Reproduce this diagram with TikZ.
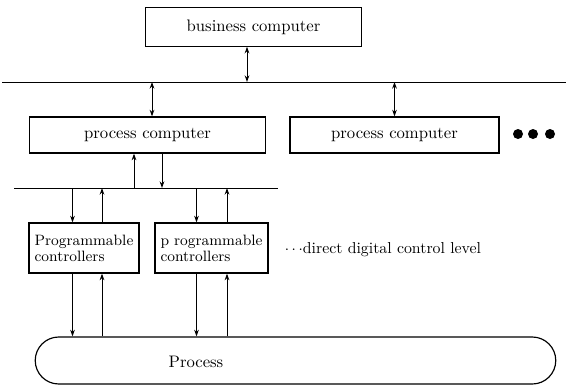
\documentclass[tikz,border=0pt]{standalone}
\usetikzlibrary{shapes.misc,arrows.meta,positioning,calc}

\begin{document}
\begin{tikzpicture}[
    x=0.6pt, y=-0.6pt,
    >={Stealth[length=4pt,width=2.8pt]},
    box/.style ={
        draw=black,
        line width=0.7pt,
        inner sep=0pt,
        minimum height=21.6pt
    },
    ctrl/.style ={
        draw=black,
        line width=0.7pt,
        align=left,
        font={\fontsize{9}{9.5}\selectfont},
        minimum width=64.8pt,
        minimum height=30pt
    },
    link/.style ={line width=0.6pt}
    ]
    \useasboundingbox (0,0) rectangle (568,386);

    \node[box, minimum width=130pt, minimum height=23pt] (business) at (253.5,27) {business computer};
    \node[box, minimum width=142pt] (pcleft) at (147.5,135) {process computer};
    \node[box, minimum width=125.4pt] (pcright) at (394.5,135) {process computer};
    \node[ctrl] (plcleft) at (84,248) {Programmable\\controllers};
    \node[ctrl] (plcright) at (211.5,248) {p rogrammable\\controllers};
    \node[rounded rectangle, draw, line width=0.7pt,
          minimum width=319pt, minimum height=28.2pt] (process) at (295.5,360.5) {};
    \node (proclabel) at (196,362) {Process};
    \node[right, font={\fontsize{9.5}{11}\selectfont}] (ddc) at (279,250) {$\cdots$direct digital control level};

    % plant bus and cell bus
    \coordinate (plant-l) at (2,82);
    \coordinate (plant-r) at (566,82);
    \coordinate (cell-l) at (14,188);
    \coordinate (cell-r) at (278,188);
    \draw[link] (plant-l) -- (plant-r);
    \draw[link] (cell-l) -- (cell-r);

    % more process computers
    \foreach \x in {518,533,550}
        \fill (\x,134) circle (3pt);

    \path ($(business.south)+(-6.5,0)$) coordinate (bz)
          ($(pcleft.north)+(4.5,0)$) coordinate (pl)
          ($(pcleft.south)+(-13.5,0)$) coordinate (pu)
          ($(pcleft.south)+(14.5,0)$) coordinate (pd);
    \draw[link,<->] (bz) -- (bz |- plant-l);
    \draw[link,<->] (pl) -- (pl |- plant-l);
    \draw[link,<->] (pcright.north) -- (pcright.north |- plant-l);
    \draw[link,->] (pu |- cell-l) -- (pu);
    \draw[link,->] (pd) -- (pd |- cell-l);

    \foreach \plc/\dn/\up in {plcleft/-11.5/18, plcright/-15/15.5} {
        \path ($(\plc.north)+(\dn,0)$) coordinate (dt)
              ($(\plc.north)+(\up,0)$) coordinate (ut)
              ($(\plc.south)+(\dn,0)$) coordinate (db)
              ($(\plc.south)+(\up,0)$) coordinate (ub);
        \draw[link,->] (dt |- cell-l) -- (dt);
        \draw[link,->] (ut) -- (ut |- cell-l);
        \draw[link,->] (db) -- (db |- process.north);
        \draw[link,->] (ub |- process.north) -- (ub);
    }
\end{tikzpicture}
\end{document}
